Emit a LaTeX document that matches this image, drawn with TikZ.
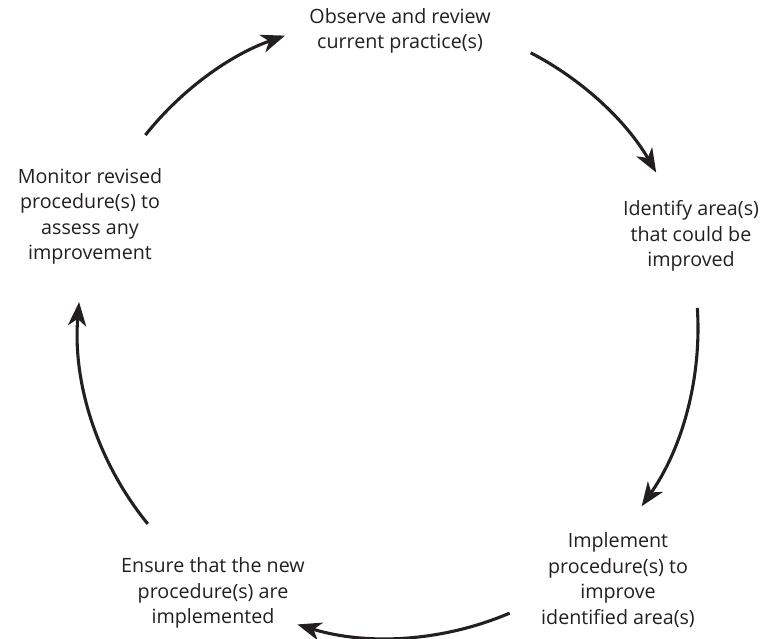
\documentclass[tikz,border=0pt]{standalone}
\usepackage{fontspec}
\setmainfont{Open Sans}
\usepackage{tikz}
\usetikzlibrary{arrows.meta}
\definecolor{ink}{HTML}{231F20}

\begin{document}
\begin{tikzpicture}[>={Stealth[length=17pt,width=13pt,inset=5pt]},
    stage/.style={align=center, text=ink, font=\fontsize{14}{18.1}\selectfont},
    cycle/.style={line width=2.2pt, color=ink, ->}]
    % Frame
    \useasboundingbox (-9.7,-7.775) rectangle (9.475,8.2);

    % Stages
    \node[stage] (obs) at (0.3,7.43) {Observe and review\\current practice(s)};
    \node[stage] (idf) at (7.575,2.3) {Identify area(s)\\that could be\\improved};
    \node[stage] (imp) at (5.75,-6.3) {Implement\\procedure(s) to\\improve\\identified area(s)};
    \node[stage] (ens) at (-4.375,-6.625) {Ensure that the new\\procedure(s) are\\implemented};
    \node[stage] (mon) at (-7.45,2.79) {Monitor revised\\procedure(s) to\\assess any\\improvement};

    % Arrows round the circle
    \def\R{7.75}
    \coordinate (A) at (141.5:\R);
    \coordinate (B) at (62.6:\R);
    \coordinate (C) at (3.7:\R);
    \coordinate (D) at (-66.9:\R);
    \coordinate (E) at (219.2:\R);

    \draw[cycle] (A) arc[start angle=141.5, end angle=109.4, radius=\R];
    \draw[cycle] (B) arc[start angle=62.6, end angle=30.1, radius=\R];
    \draw[cycle] (C) arc[start angle=3.7, end angle=-35.1, radius=\R];
    \draw[cycle] (D) arc[start angle=-66.9, end angle=-107, radius=\R];
    \draw[cycle] (E) arc[start angle=219.2, end angle=175.2, radius=\R];
\end{tikzpicture}
\end{document}
